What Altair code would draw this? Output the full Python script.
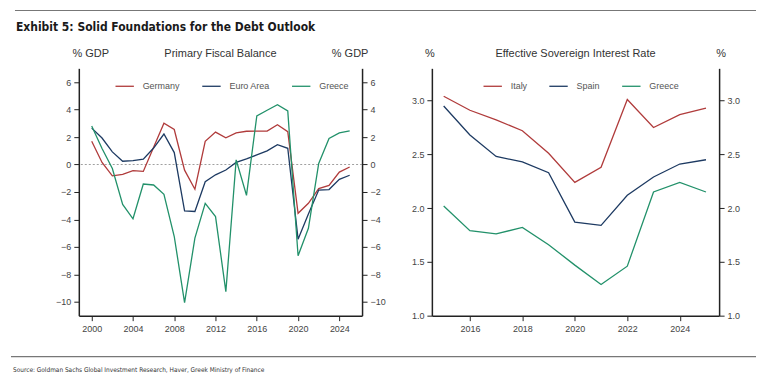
import altair as alt
import pandas as pd

# ---------------- data ----------------
years_pfb = list(range(2000, 2026))
germany = [1.69, 0.15, -0.82, -0.72, -0.45, -0.5, 1.25, 3.0, 2.55, -0.41, -1.8, 1.69, 2.36,
           1.95, 2.3, 2.42, 2.43, 2.43, 2.9, 2.39, -3.55, -2.82, -1.75, -1.52, -0.55, -0.18]
euro_area = [2.65, 1.93, 0.92, 0.24, 0.29, 0.39, 1.2, 2.22, 0.87, -3.37, -3.42, -1.25, -0.75,
             -0.4, 0.15, 0.41, 0.7, 0.99, 1.45, 1.18, -5.43, -3.6, -1.86, -1.82, -1.08, -0.78]
greece_pfb = [2.8, 1.16, -0.29, -2.9, -3.95, -1.42, -1.49, -2.17, -5.24, -10.05, -5.36, -2.83, -3.79,
              -9.25, 0.34, -2.24, 3.54, 3.95, 4.35, 3.9, -6.64, -4.64, 0.08, 1.9, 2.3, 2.45]

years_esir = list(range(2015, 2026))
italy = [3.04, 2.91, 2.82, 2.72, 2.51, 2.24, 2.38, 3.01, 2.75, 2.87, 2.93]
spain = [2.95, 2.68, 2.48, 2.43, 2.33, 1.87, 1.84, 2.12, 2.29, 2.41, 2.45]
greece_esir = [2.02, 1.79, 1.76, 1.82, 1.66, 1.47, 1.29, 1.46, 2.15, 2.24, 2.15]

left_series = ["Germany", "Euro Area", "Greece"]
right_series = ["Italy", "Spain", "Greece"]
colors = ["#b03b3b", "#1d3a62", "#22916a"]

left_yticks = [-10, -8, -6, -4, -2, 0, 2, 4, 6]
left_xticks = [2000, 2004, 2008, 2012, 2016, 2020, 2024]
right_yticks = [1.0, 1.5, 2.0, 2.5, 3.0]
right_xticks = [2016, 2018, 2020, 2022, 2024]

title_text = "Exhibit 5: Solid Foundations for the Debt Outlook"
source_text = "Source: Goldman Sachs Global Investment Research, Haver, Greek Ministry of Finance"


def long_df(years, names, series):
    rows = []
    for name, vals in zip(names, series):
        for y, v in zip(years, vals):
            rows.append({"year": y, "value": v, "series": name})
    return pd.DataFrame(rows)


df_left = long_df(years_pfb, left_series, [germany, euro_area, greece_pfb])
df_right = long_df(years_esir, right_series, [italy, spain, greece_esir])

FONT = "Liberation Sans"
NARROW = "Liberation Sans Narrow, DejaVu Sans Condensed, sans-serif"
one = pd.DataFrame({"a": [0]})


def text_mark(txt, x, y, size=11, color="#333", font=FONT, weight="normal", align="center",
              baseline="middle"):
    return alt.Chart(one).mark_text(text=txt, fontSize=size, color=color, font=font,
                                    fontWeight=weight, align=align, baseline=baseline).encode(
        x=alt.value(x), y=alt.value(y))


def panel(df, order, xdom, xticks, ydom, yticks, yfmt, width, height, legend_x, ytitle, title,
          ytitle_lx, ytitle_rx, zero=False):
    xs = alt.Scale(domain=xdom, nice=False, zero=False)
    ys = alt.Scale(domain=ydom, nice=False, zero=False)
    x = alt.X("year:Q", scale=xs, axis=alt.Axis(values=xticks, format="d", title=None,
                                                 labelPadding=4))
    lines = alt.Chart(df).mark_line(strokeWidth=1.3).encode(
        x=x,
        y=alt.Y("value:Q", scale=ys,
                axis=alt.Axis(orient="left", values=yticks, format=yfmt, title=None)),
        color=alt.Color("series:N", sort=order,
                        scale=alt.Scale(domain=order, range=colors),
                        legend=alt.Legend(orient="none", legendX=legend_x, legendY=8,
                                          direction="horizontal", title=None,
                                          symbolType="stroke", symbolSize=340,
                                          symbolStrokeWidth=1.3, labelFontSize=9,
                                          labelFont=FONT, labelColor="#555", labelOffset=8,
                                          columnPadding=19, padding=0)),
    )
    ghost = alt.Chart(df).mark_line(opacity=0).encode(
        x=x,
        y=alt.Y("value:Q", scale=ys,
                axis=alt.Axis(orient="right", values=yticks, format=yfmt, title=None)),
        detail="series:N",
    )
    layers = []
    if zero:
        layers.append(alt.Chart(pd.DataFrame({"z": [0]})).mark_rule(
            color="#888", strokeDash=[2, 2], strokeWidth=0.8).encode(
            y=alt.Y("z:Q", scale=ys, axis=None)))
    layers += [lines, ghost,
               text_mark(ytitle, ytitle_lx, -14),
               text_mark(title, width / 2, -14),
               text_mark(ytitle, ytitle_rx, -14)]
    return alt.layer(*layers).resolve_scale(y="independent").properties(width=width, height=height)


left = panel(df_left, left_series, [1998.75, 2026.2], left_xticks, [-11, 7], left_yticks, "d",
             284, 248, 36, "% GDP", "Primary Fiscal Balance", 12, 272, zero=True)

header_footer = [
    alt.Chart(one).mark_rule(color="#777", strokeWidth=1.2).encode(
        x=alt.value(-64), x2=alt.value(679), y=alt.value(-58)),
    alt.Chart(one).mark_rule(color="#777", strokeWidth=1.2).encode(
        x=alt.value(-68), x2=alt.value(679), y=alt.value(289)),
    text_mark(title_text, -63, -37.5, size=12, color="#1a1a1a", font=NARROW, weight="bold",
              align="left", baseline="alphabetic"),
    text_mark(source_text, -66, 304.5, size=6.5, color="#333", font=NARROW, align="left",
              baseline="alphabetic"),
]
left = alt.layer(left, *header_footer)

right = panel(df_right, right_series, [2014.55, 2025.5], right_xticks, [1.0, 3.3], right_yticks,
              ".1f", 288, 248, 51, "%", "Effective Sovereign Interest Rate", -2, 290)

chart = alt.hconcat(left, right, spacing=70, bounds="flush").resolve_scale(
    color="independent").resolve_legend(color="independent").properties(
    padding={"left": 2, "top": 1, "right": 0, "bottom": 0}
).configure_view(stroke=None).configure_axis(
    domainColor="#222", domainWidth=1.5, tickColor="#222", tickWidth=1, tickSize=5,
    labelFont=FONT, labelFontSize=9, labelColor="#444", grid=False, labelPadding=3
)

chart.save("out.html", embed_options={"renderer": "svg", "actions": False})
